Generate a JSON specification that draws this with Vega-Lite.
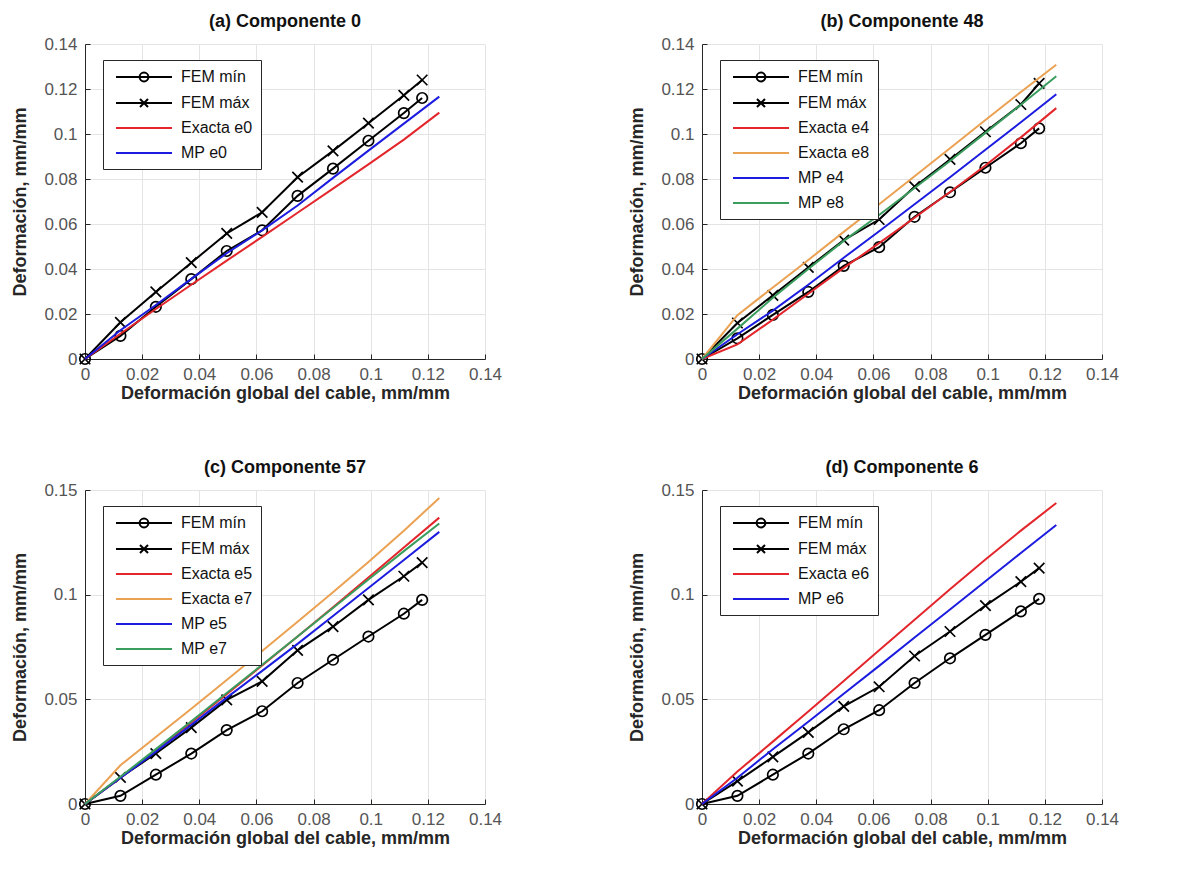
{
  "$schema": "https://vega.github.io/schema/vega-lite/v6.json",
  "padding": {"left": 11, "top": 13, "right": 5, "bottom": 5},
  "background": "white",
  "config": {
    "view": {"stroke": null},
    "font": "Liberation Sans",
    "axis": {
      "domainColor": "#262626", "domainWidth": 1,
      "tickColor": "#262626", "tickSize": -5, "tickWidth": 1,
      "gridColor": "#e4e4e4", "gridWidth": 1,
      "labelFont": "Liberation Sans", "labelFontSize": 17, "labelColor": "#555555",
      "labelFlush": false, "labelOverlap": false, "labelPadding": 12,
      "titleFont": "Liberation Sans", "titleFontSize": 18, "titleFontWeight": "bold", "titleColor": "#262626"
    },
    "axisX": {"titlePadding": 2},
    "axisY": {"titlePadding": 14, "labelPadding": 13},
    "title": {"font": "Liberation Sans", "fontSize": 18, "fontWeight": "bold", "color": "#111111", "anchor": "middle", "frame": "group", "offset": 4},
    "legend": {
      "orient": "none", "legendX": 18, "legendY": 16,
      "title": null, "fillColor": "white", "strokeColor": "#262626", "padding": 8,
      "labelFont": "Liberation Sans", "labelFontSize": 16, "labelColor": "#111111",
      "symbolSize": 256, "symbolStrokeWidth": 2, "symbolOffset": 24, "labelOffset": 28,
      "rowPadding": 8
    }
  },
  "datasets": {
    "a_fem": [
      {"serie": "FEM mín", "x": 0, "y": 0}, {"serie": "FEM mín", "x": 0.0124, "y": 0.0103}, {"serie": "FEM mín", "x": 0.0248, "y": 0.0232}, {"serie": "FEM mín", "x": 0.0372, "y": 0.0355}, {"serie": "FEM mín", "x": 0.0496, "y": 0.048}, {"serie": "FEM mín", "x": 0.062, "y": 0.0572}, {"serie": "FEM mín", "x": 0.0744, "y": 0.0725}, {"serie": "FEM mín", "x": 0.0868, "y": 0.0846}, {"serie": "FEM mín", "x": 0.0992, "y": 0.097}, {"serie": "FEM mín", "x": 0.1116, "y": 0.1093}, {"serie": "FEM mín", "x": 0.118, "y": 0.116},
      {"serie": "FEM máx", "x": 0, "y": 0}, {"serie": "FEM máx", "x": 0.0124, "y": 0.0163}, {"serie": "FEM máx", "x": 0.0248, "y": 0.0298}, {"serie": "FEM máx", "x": 0.0372, "y": 0.0428}, {"serie": "FEM máx", "x": 0.0496, "y": 0.0558}, {"serie": "FEM máx", "x": 0.062, "y": 0.0652}, {"serie": "FEM máx", "x": 0.0744, "y": 0.0808}, {"serie": "FEM máx", "x": 0.0868, "y": 0.0925}, {"serie": "FEM máx", "x": 0.0992, "y": 0.1048}, {"serie": "FEM máx", "x": 0.1116, "y": 0.1172}, {"serie": "FEM máx", "x": 0.118, "y": 0.124}
    ],
    "a_mod": [
      {"serie": "Exacta e0", "x": 0, "y": 0}, {"serie": "Exacta e0", "x": 0.0124, "y": 0.0112}, {"serie": "Exacta e0", "x": 0.0248, "y": 0.0222}, {"serie": "Exacta e0", "x": 0.0372, "y": 0.033}, {"serie": "Exacta e0", "x": 0.0496, "y": 0.0437}, {"serie": "Exacta e0", "x": 0.062, "y": 0.0543}, {"serie": "Exacta e0", "x": 0.0744, "y": 0.065}, {"serie": "Exacta e0", "x": 0.0868, "y": 0.0757}, {"serie": "Exacta e0", "x": 0.0992, "y": 0.0865}, {"serie": "Exacta e0", "x": 0.1116, "y": 0.0975}, {"serie": "Exacta e0", "x": 0.124, "y": 0.1095},
      {"serie": "MP e0", "x": 0, "y": 0}, {"serie": "MP e0", "x": 0.0124, "y": 0.0128}, {"serie": "MP e0", "x": 0.0248, "y": 0.024}, {"serie": "MP e0", "x": 0.0372, "y": 0.0356}, {"serie": "MP e0", "x": 0.0496, "y": 0.047}, {"serie": "MP e0", "x": 0.062, "y": 0.0572}, {"serie": "MP e0", "x": 0.0744, "y": 0.0682}, {"serie": "MP e0", "x": 0.0868, "y": 0.0805}, {"serie": "MP e0", "x": 0.0992, "y": 0.0926}, {"serie": "MP e0", "x": 0.1116, "y": 0.1046}, {"serie": "MP e0", "x": 0.124, "y": 0.1166}
    ],
    "b_fem": [
      {"serie": "FEM mín", "x": 0, "y": 0}, {"serie": "FEM mín", "x": 0.0124, "y": 0.0092}, {"serie": "FEM mín", "x": 0.0248, "y": 0.0196}, {"serie": "FEM mín", "x": 0.0372, "y": 0.0298}, {"serie": "FEM mín", "x": 0.0496, "y": 0.0414}, {"serie": "FEM mín", "x": 0.062, "y": 0.0497}, {"serie": "FEM mín", "x": 0.0744, "y": 0.0632}, {"serie": "FEM mín", "x": 0.0868, "y": 0.0741}, {"serie": "FEM mín", "x": 0.0992, "y": 0.085}, {"serie": "FEM mín", "x": 0.1116, "y": 0.0959}, {"serie": "FEM mín", "x": 0.118, "y": 0.1025},
      {"serie": "FEM máx", "x": 0, "y": 0}, {"serie": "FEM máx", "x": 0.0124, "y": 0.016}, {"serie": "FEM máx", "x": 0.0248, "y": 0.0283}, {"serie": "FEM máx", "x": 0.0372, "y": 0.0407}, {"serie": "FEM máx", "x": 0.0496, "y": 0.0528}, {"serie": "FEM máx", "x": 0.062, "y": 0.062}, {"serie": "FEM máx", "x": 0.0744, "y": 0.0766}, {"serie": "FEM máx", "x": 0.0868, "y": 0.0887}, {"serie": "FEM máx", "x": 0.0992, "y": 0.101}, {"serie": "FEM máx", "x": 0.1116, "y": 0.1131}, {"serie": "FEM máx", "x": 0.118, "y": 0.1225}
    ],
    "b_mod": [
      {"serie": "Exacta e4", "x": 0, "y": 0}, {"serie": "Exacta e4", "x": 0.0124, "y": 0.0065}, {"serie": "Exacta e4", "x": 0.0248, "y": 0.0175}, {"serie": "Exacta e4", "x": 0.0372, "y": 0.029}, {"serie": "Exacta e4", "x": 0.0496, "y": 0.0405}, {"serie": "Exacta e4", "x": 0.062, "y": 0.0515}, {"serie": "Exacta e4", "x": 0.0744, "y": 0.0628}, {"serie": "Exacta e4", "x": 0.0868, "y": 0.0742}, {"serie": "Exacta e4", "x": 0.0992, "y": 0.086}, {"serie": "Exacta e4", "x": 0.1116, "y": 0.0985}, {"serie": "Exacta e4", "x": 0.124, "y": 0.1115},
      {"serie": "Exacta e8", "x": 0, "y": 0}, {"serie": "Exacta e8", "x": 0.0124, "y": 0.0195}, {"serie": "Exacta e8", "x": 0.0248, "y": 0.0318}, {"serie": "Exacta e8", "x": 0.0372, "y": 0.044}, {"serie": "Exacta e8", "x": 0.0496, "y": 0.0565}, {"serie": "Exacta e8", "x": 0.062, "y": 0.0688}, {"serie": "Exacta e8", "x": 0.0744, "y": 0.0812}, {"serie": "Exacta e8", "x": 0.0868, "y": 0.0937}, {"serie": "Exacta e8", "x": 0.0992, "y": 0.1062}, {"serie": "Exacta e8", "x": 0.1116, "y": 0.1187}, {"serie": "Exacta e8", "x": 0.124, "y": 0.1308},
      {"serie": "MP e4", "x": 0, "y": 0}, {"serie": "MP e4", "x": 0.0124, "y": 0.011}, {"serie": "MP e4", "x": 0.0248, "y": 0.0215}, {"serie": "MP e4", "x": 0.0372, "y": 0.033}, {"serie": "MP e4", "x": 0.0496, "y": 0.045}, {"serie": "MP e4", "x": 0.062, "y": 0.0568}, {"serie": "MP e4", "x": 0.0744, "y": 0.0688}, {"serie": "MP e4", "x": 0.0868, "y": 0.0808}, {"serie": "MP e4", "x": 0.0992, "y": 0.093}, {"serie": "MP e4", "x": 0.1116, "y": 0.1052}, {"serie": "MP e4", "x": 0.124, "y": 0.1177},
      {"serie": "MP e8", "x": 0, "y": 0}, {"serie": "MP e8", "x": 0.0124, "y": 0.0135}, {"serie": "MP e8", "x": 0.0248, "y": 0.0272}, {"serie": "MP e8", "x": 0.0372, "y": 0.04}, {"serie": "MP e8", "x": 0.0496, "y": 0.0525}, {"serie": "MP e8", "x": 0.062, "y": 0.064}, {"serie": "MP e8", "x": 0.0744, "y": 0.076}, {"serie": "MP e8", "x": 0.0868, "y": 0.088}, {"serie": "MP e8", "x": 0.0992, "y": 0.1005}, {"serie": "MP e8", "x": 0.1116, "y": 0.113}, {"serie": "MP e8", "x": 0.124, "y": 0.1257}
    ],
    "c_fem": [
      {"serie": "FEM mín", "x": 0, "y": 0}, {"serie": "FEM mín", "x": 0.0124, "y": 0.0039}, {"serie": "FEM mín", "x": 0.0248, "y": 0.014}, {"serie": "FEM mín", "x": 0.0372, "y": 0.0241}, {"serie": "FEM mín", "x": 0.0496, "y": 0.0353}, {"serie": "FEM mín", "x": 0.062, "y": 0.0443}, {"serie": "FEM mín", "x": 0.0744, "y": 0.0578}, {"serie": "FEM mín", "x": 0.0868, "y": 0.0689}, {"serie": "FEM mín", "x": 0.0992, "y": 0.08}, {"serie": "FEM mín", "x": 0.1116, "y": 0.0909}, {"serie": "FEM mín", "x": 0.118, "y": 0.0975},
      {"serie": "FEM máx", "x": 0, "y": 0}, {"serie": "FEM máx", "x": 0.0124, "y": 0.0127}, {"serie": "FEM máx", "x": 0.0248, "y": 0.0241}, {"serie": "FEM máx", "x": 0.0372, "y": 0.0365}, {"serie": "FEM máx", "x": 0.0496, "y": 0.0497}, {"serie": "FEM máx", "x": 0.062, "y": 0.0586}, {"serie": "FEM máx", "x": 0.0744, "y": 0.0734}, {"serie": "FEM máx", "x": 0.0868, "y": 0.0847}, {"serie": "FEM máx", "x": 0.0992, "y": 0.0975}, {"serie": "FEM máx", "x": 0.1116, "y": 0.1088}, {"serie": "FEM máx", "x": 0.118, "y": 0.1153}
    ],
    "c_mod": [
      {"serie": "Exacta e5", "x": 0, "y": 0}, {"serie": "Exacta e5", "x": 0.0124, "y": 0.0125}, {"serie": "Exacta e5", "x": 0.0248, "y": 0.0256}, {"serie": "Exacta e5", "x": 0.0372, "y": 0.039}, {"serie": "Exacta e5", "x": 0.0496, "y": 0.0525}, {"serie": "Exacta e5", "x": 0.062, "y": 0.0662}, {"serie": "Exacta e5", "x": 0.0744, "y": 0.08}, {"serie": "Exacta e5", "x": 0.0868, "y": 0.094}, {"serie": "Exacta e5", "x": 0.0992, "y": 0.1082}, {"serie": "Exacta e5", "x": 0.1116, "y": 0.1225}, {"serie": "Exacta e5", "x": 0.124, "y": 0.1368},
      {"serie": "Exacta e7", "x": 0, "y": 0}, {"serie": "Exacta e7", "x": 0.0124, "y": 0.0185}, {"serie": "Exacta e7", "x": 0.0248, "y": 0.032}, {"serie": "Exacta e7", "x": 0.0372, "y": 0.0455}, {"serie": "Exacta e7", "x": 0.0496, "y": 0.0592}, {"serie": "Exacta e7", "x": 0.062, "y": 0.0731}, {"serie": "Exacta e7", "x": 0.0744, "y": 0.0871}, {"serie": "Exacta e7", "x": 0.0868, "y": 0.1012}, {"serie": "Exacta e7", "x": 0.0992, "y": 0.1156}, {"serie": "Exacta e7", "x": 0.1116, "y": 0.1305}, {"serie": "Exacta e7", "x": 0.124, "y": 0.1462},
      {"serie": "MP e5", "x": 0, "y": 0}, {"serie": "MP e5", "x": 0.0124, "y": 0.0125}, {"serie": "MP e5", "x": 0.0248, "y": 0.025}, {"serie": "MP e5", "x": 0.0372, "y": 0.0378}, {"serie": "MP e5", "x": 0.0496, "y": 0.0508}, {"serie": "MP e5", "x": 0.062, "y": 0.0636}, {"serie": "MP e5", "x": 0.0744, "y": 0.0765}, {"serie": "MP e5", "x": 0.0868, "y": 0.0898}, {"serie": "MP e5", "x": 0.0992, "y": 0.1032}, {"serie": "MP e5", "x": 0.1116, "y": 0.1166}, {"serie": "MP e5", "x": 0.124, "y": 0.13},
      {"serie": "MP e7", "x": 0, "y": 0}, {"serie": "MP e7", "x": 0.0124, "y": 0.013}, {"serie": "MP e7", "x": 0.0248, "y": 0.0262}, {"serie": "MP e7", "x": 0.0372, "y": 0.0395}, {"serie": "MP e7", "x": 0.0496, "y": 0.053}, {"serie": "MP e7", "x": 0.062, "y": 0.0665}, {"serie": "MP e7", "x": 0.0744, "y": 0.08}, {"serie": "MP e7", "x": 0.0868, "y": 0.0936}, {"serie": "MP e7", "x": 0.0992, "y": 0.1072}, {"serie": "MP e7", "x": 0.1116, "y": 0.1208}, {"serie": "MP e7", "x": 0.124, "y": 0.134}
    ],
    "d_fem": [
      {"serie": "FEM mín", "x": 0, "y": 0}, {"serie": "FEM mín", "x": 0.0124, "y": 0.0039}, {"serie": "FEM mín", "x": 0.0248, "y": 0.014}, {"serie": "FEM mín", "x": 0.0372, "y": 0.0241}, {"serie": "FEM mín", "x": 0.0496, "y": 0.0357}, {"serie": "FEM mín", "x": 0.062, "y": 0.0448}, {"serie": "FEM mín", "x": 0.0744, "y": 0.0578}, {"serie": "FEM mín", "x": 0.0868, "y": 0.0696}, {"serie": "FEM mín", "x": 0.0992, "y": 0.0808}, {"serie": "FEM mín", "x": 0.1116, "y": 0.092}, {"serie": "FEM mín", "x": 0.118, "y": 0.098},
      {"serie": "FEM máx", "x": 0, "y": 0}, {"serie": "FEM máx", "x": 0.0124, "y": 0.0109}, {"serie": "FEM máx", "x": 0.0248, "y": 0.0225}, {"serie": "FEM máx", "x": 0.0372, "y": 0.0342}, {"serie": "FEM máx", "x": 0.0496, "y": 0.0466}, {"serie": "FEM máx", "x": 0.062, "y": 0.056}, {"serie": "FEM máx", "x": 0.0744, "y": 0.0707}, {"serie": "FEM máx", "x": 0.0868, "y": 0.0824}, {"serie": "FEM máx", "x": 0.0992, "y": 0.0948}, {"serie": "FEM máx", "x": 0.1116, "y": 0.1062}, {"serie": "FEM máx", "x": 0.118, "y": 0.1127}
    ],
    "d_mod": [
      {"serie": "Exacta e6", "x": 0, "y": 0}, {"serie": "Exacta e6", "x": 0.0124, "y": 0.0155}, {"serie": "Exacta e6", "x": 0.0248, "y": 0.0298}, {"serie": "Exacta e6", "x": 0.0372, "y": 0.0442}, {"serie": "Exacta e6", "x": 0.0496, "y": 0.0588}, {"serie": "Exacta e6", "x": 0.062, "y": 0.0734}, {"serie": "Exacta e6", "x": 0.0744, "y": 0.088}, {"serie": "Exacta e6", "x": 0.0868, "y": 0.1026}, {"serie": "Exacta e6", "x": 0.0992, "y": 0.1168}, {"serie": "Exacta e6", "x": 0.1116, "y": 0.1306}, {"serie": "Exacta e6", "x": 0.124, "y": 0.1438},
      {"serie": "MP e6", "x": 0, "y": 0}, {"serie": "MP e6", "x": 0.0124, "y": 0.0125}, {"serie": "MP e6", "x": 0.0248, "y": 0.0262}, {"serie": "MP e6", "x": 0.0372, "y": 0.0393}, {"serie": "MP e6", "x": 0.0496, "y": 0.0527}, {"serie": "MP e6", "x": 0.062, "y": 0.066}, {"serie": "MP e6", "x": 0.0744, "y": 0.0795}, {"serie": "MP e6", "x": 0.0868, "y": 0.0929}, {"serie": "MP e6", "x": 0.0992, "y": 0.1064}, {"serie": "MP e6", "x": 0.1116, "y": 0.1199}, {"serie": "MP e6", "x": 0.124, "y": 0.1333}
    ]
  },
  "columns": 2,
  "spacing": {"row": 131, "column": 217},
  "bounds": "flush",
  "resolve": {
    "scale": {"color": "independent", "shape": "independent", "x": "independent", "y": "independent"},
    "legend": {"color": "independent", "shape": "independent"}
  },
  "concat": [
    {
      "width": 400, "height": 315,
      "title": {"text": "(a) Componente 0"},
      "encoding": {
        "x": {"field": "x", "type": "quantitative", "scale": {"domain": [0, 0.14], "nice": false},
              "axis": {"values": [0, 0.02, 0.04, 0.06, 0.08, 0.1, 0.12, 0.14], "labelExpr": "format(datum.value, '~g')", "title": "Deformación global del cable, mm/mm"}},
        "y": {"field": "y", "type": "quantitative", "scale": {"domain": [0, 0.14], "nice": false},
              "axis": {"values": [0, 0.02, 0.04, 0.06, 0.08, 0.1, 0.12, 0.14], "labelExpr": "format(datum.value, '~g')", "title": "Deformación, mm/mm"}},
        "color": {"field": "serie", "type": "nominal",
                  "scale": {"domain": ["FEM mín", "FEM máx", "Exacta e0", "MP e0"], "range": ["#000000", "#000000", "#e3262b", "#1c1ce0"]},
                  "legend": {"encode": {"symbols": {"update": {"shape": {"signal": "datum.value === 'FEM mín' ? 'M-3.5,0H3.5M-0.55,0A0.55,0.55 0 1,1 0.55,0A0.55,0.55 0 1,1 -0.55,0' : datum.value === 'FEM máx' ? 'M-3.5,0H3.5M-0.5,-0.5L0.5,0.5M-0.5,0.5L0.5,-0.5' : 'M-3.5,0H3.5'"}, "fill": {"value": "transparent"}, "strokeWidth": {"value": 2}}}}}}
      },
      "layer": [
        {"data": {"name": "a_fem"}, "mark": {"type": "line", "strokeWidth": 2}},
        {"data": {"name": "a_fem"}, "mark": {"type": "point", "filled": false, "strokeWidth": 1.7, "size": 110, "opacity": 1},
         "encoding": {"shape": {"field": "serie", "type": "nominal", "scale": {"domain": ["FEM mín", "FEM máx"], "range": ["circle", "M-1,-1L1,1M-1,1L1,-1"]}, "legend": null}}},
        {"data": {"name": "a_mod"}, "mark": {"type": "line", "strokeWidth": 2}}
      ]
    },
    {
      "width": 400, "height": 315,
      "title": {"text": "(b) Componente 48"},
      "encoding": {
        "x": {"field": "x", "type": "quantitative", "scale": {"domain": [0, 0.14], "nice": false},
              "axis": {"values": [0, 0.02, 0.04, 0.06, 0.08, 0.1, 0.12, 0.14], "labelExpr": "format(datum.value, '~g')", "title": "Deformación global del cable, mm/mm"}},
        "y": {"field": "y", "type": "quantitative", "scale": {"domain": [0, 0.14], "nice": false},
              "axis": {"values": [0, 0.02, 0.04, 0.06, 0.08, 0.1, 0.12, 0.14], "labelExpr": "format(datum.value, '~g')", "title": "Deformación, mm/mm"}},
        "color": {"field": "serie", "type": "nominal",
                  "scale": {"domain": ["FEM mín", "FEM máx", "Exacta e4", "Exacta e8", "MP e4", "MP e8"], "range": ["#000000", "#000000", "#e3262b", "#eba152", "#1c1ce0", "#3a9d5d"]},
                  "legend": {"encode": {"symbols": {"update": {"shape": {"signal": "datum.value === 'FEM mín' ? 'M-3.5,0H3.5M-0.55,0A0.55,0.55 0 1,1 0.55,0A0.55,0.55 0 1,1 -0.55,0' : datum.value === 'FEM máx' ? 'M-3.5,0H3.5M-0.5,-0.5L0.5,0.5M-0.5,0.5L0.5,-0.5' : 'M-3.5,0H3.5'"}, "fill": {"value": "transparent"}, "strokeWidth": {"value": 2}}}}}}
      },
      "layer": [
        {"data": {"name": "b_fem"}, "mark": {"type": "line", "strokeWidth": 2}},
        {"data": {"name": "b_fem"}, "mark": {"type": "point", "filled": false, "strokeWidth": 1.7, "size": 110, "opacity": 1},
         "encoding": {"shape": {"field": "serie", "type": "nominal", "scale": {"domain": ["FEM mín", "FEM máx"], "range": ["circle", "M-1,-1L1,1M-1,1L1,-1"]}, "legend": null}}},
        {"data": {"name": "b_mod"}, "mark": {"type": "line", "strokeWidth": 2}}
      ]
    },
    {
      "width": 400, "height": 314,
      "title": {"text": "(c) Componente 57"},
      "encoding": {
        "x": {"field": "x", "type": "quantitative", "scale": {"domain": [0, 0.14], "nice": false},
              "axis": {"values": [0, 0.02, 0.04, 0.06, 0.08, 0.1, 0.12, 0.14], "labelExpr": "format(datum.value, '~g')", "title": "Deformación global del cable, mm/mm"}},
        "y": {"field": "y", "type": "quantitative", "scale": {"domain": [0, 0.15], "nice": false},
              "axis": {"values": [0, 0.05, 0.1, 0.15], "labelExpr": "format(datum.value, '~g')", "title": "Deformación, mm/mm"}},
        "color": {"field": "serie", "type": "nominal",
                  "scale": {"domain": ["FEM mín", "FEM máx", "Exacta e5", "Exacta e7", "MP e5", "MP e7"], "range": ["#000000", "#000000", "#e3262b", "#eba152", "#1c1ce0", "#3a9d5d"]},
                  "legend": {"encode": {"symbols": {"update": {"shape": {"signal": "datum.value === 'FEM mín' ? 'M-3.5,0H3.5M-0.55,0A0.55,0.55 0 1,1 0.55,0A0.55,0.55 0 1,1 -0.55,0' : datum.value === 'FEM máx' ? 'M-3.5,0H3.5M-0.5,-0.5L0.5,0.5M-0.5,0.5L0.5,-0.5' : 'M-3.5,0H3.5'"}, "fill": {"value": "transparent"}, "strokeWidth": {"value": 2}}}}}}
      },
      "layer": [
        {"data": {"name": "c_fem"}, "mark": {"type": "line", "strokeWidth": 2}},
        {"data": {"name": "c_fem"}, "mark": {"type": "point", "filled": false, "strokeWidth": 1.7, "size": 110, "opacity": 1},
         "encoding": {"shape": {"field": "serie", "type": "nominal", "scale": {"domain": ["FEM mín", "FEM máx"], "range": ["circle", "M-1,-1L1,1M-1,1L1,-1"]}, "legend": null}}},
        {"data": {"name": "c_mod"}, "mark": {"type": "line", "strokeWidth": 2}}
      ]
    },
    {
      "width": 400, "height": 314,
      "title": {"text": "(d) Componente 6"},
      "encoding": {
        "x": {"field": "x", "type": "quantitative", "scale": {"domain": [0, 0.14], "nice": false},
              "axis": {"values": [0, 0.02, 0.04, 0.06, 0.08, 0.1, 0.12, 0.14], "labelExpr": "format(datum.value, '~g')", "title": "Deformación global del cable, mm/mm"}},
        "y": {"field": "y", "type": "quantitative", "scale": {"domain": [0, 0.15], "nice": false},
              "axis": {"values": [0, 0.05, 0.1, 0.15], "labelExpr": "format(datum.value, '~g')", "title": "Deformación, mm/mm"}},
        "color": {"field": "serie", "type": "nominal",
                  "scale": {"domain": ["FEM mín", "FEM máx", "Exacta e6", "MP e6"], "range": ["#000000", "#000000", "#e3262b", "#1c1ce0"]},
                  "legend": {"encode": {"symbols": {"update": {"shape": {"signal": "datum.value === 'FEM mín' ? 'M-3.5,0H3.5M-0.55,0A0.55,0.55 0 1,1 0.55,0A0.55,0.55 0 1,1 -0.55,0' : datum.value === 'FEM máx' ? 'M-3.5,0H3.5M-0.5,-0.5L0.5,0.5M-0.5,0.5L0.5,-0.5' : 'M-3.5,0H3.5'"}, "fill": {"value": "transparent"}, "strokeWidth": {"value": 2}}}}}}
      },
      "layer": [
        {"data": {"name": "d_fem"}, "mark": {"type": "line", "strokeWidth": 2}},
        {"data": {"name": "d_fem"}, "mark": {"type": "point", "filled": false, "strokeWidth": 1.7, "size": 110, "opacity": 1},
         "encoding": {"shape": {"field": "serie", "type": "nominal", "scale": {"domain": ["FEM mín", "FEM máx"], "range": ["circle", "M-1,-1L1,1M-1,1L1,-1"]}, "legend": null}}},
        {"data": {"name": "d_mod"}, "mark": {"type": "line", "strokeWidth": 2}}
      ]
    }
  ]
}
